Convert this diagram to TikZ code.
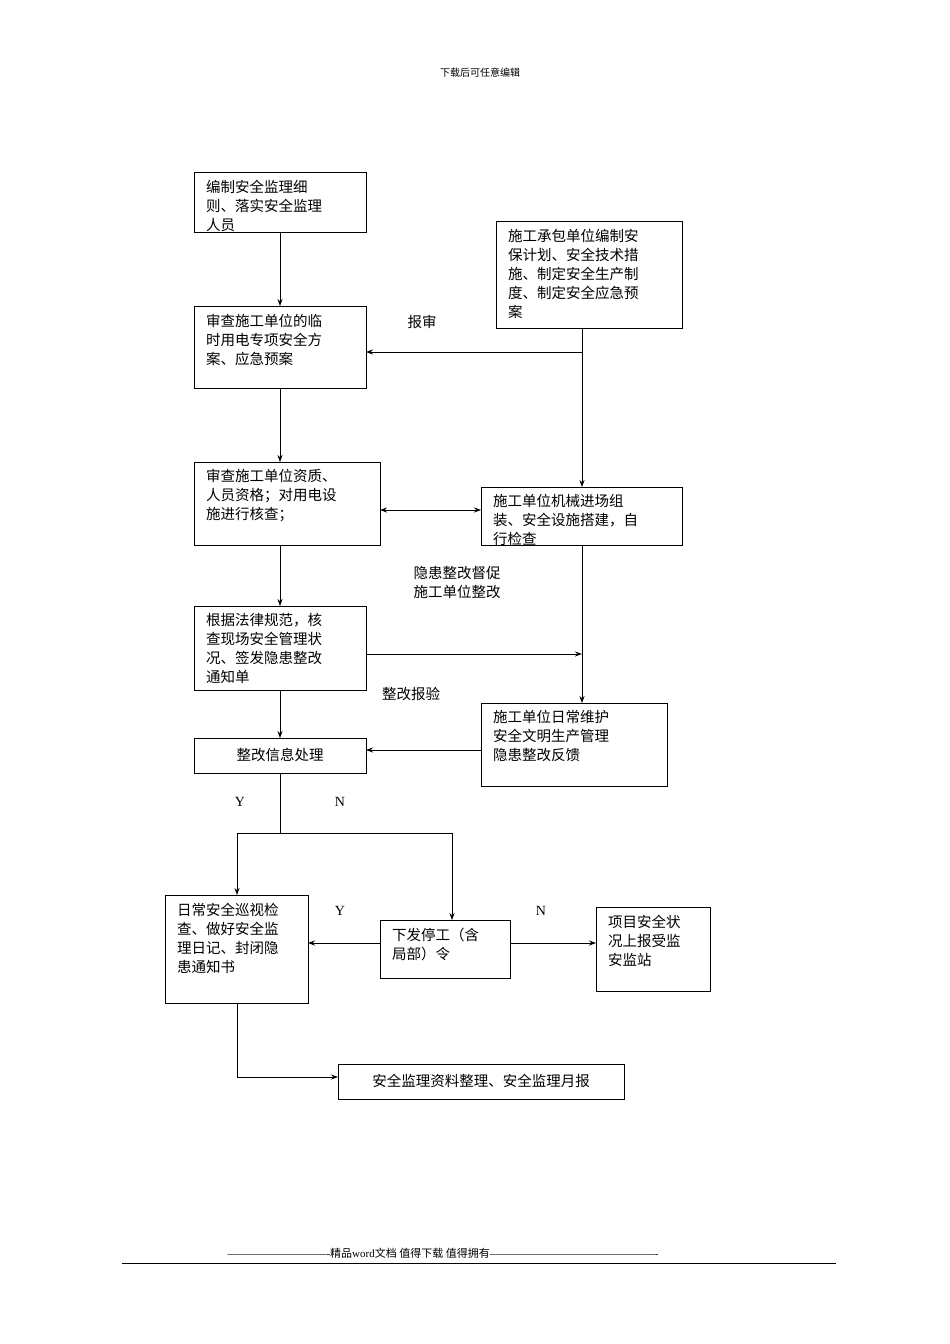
\documentclass[tikz,border=0pt]{standalone}
\usepackage{fontspec}
\setmainfont{Liberation Serif}
\newfontfamily\cjk{Noto Sans CJK SC}
\usetikzlibrary{arrows.meta}
\begin{document}
\begin{tikzpicture}[x=1pt,y=-1pt,
 bx/.style={draw,line width=0.8pt,anchor=north west,inner sep=0pt},
 tx/.style={anchor=north west,align=left,font=\cjk\fontsize{14.5}{19}\selectfont,inner sep=0pt},
 lb/.style={font=\cjk\fontsize{14.5}{19}\selectfont,inner sep=0pt,align=left},
 ar/.style={-{Stealth[length=7pt,width=5pt]},line width=0.8pt},
 ln/.style={line width=0.8pt}]
\useasboundingbox (0,0) rectangle (950,1344);
\node[font=\cjk\fontsize{10}{12}\selectfont] (hd) at (480,73) {下载后可任意编辑};
% boxes
\draw[ln] (194,172) rectangle (366,232); \node[tx] (t1) at (206,180) {编制安全监理细\\则、落实安全监理\\人员};
\coordinate (b1) at (280,232);
\draw[ln] (496,221) rectangle (682,328); \node[tx] (t2) at (508,229) {施工承包单位编制安\\保计划、安全技术措\\施、制定安全生产制\\度、制定安全应急预\\案};
\draw[ln] (194,306) rectangle (366,388); \node[tx] (t3) at (206,314) {审查施工单位的临\\时用电专项安全方\\案、应急预案};
\draw[ln] (194,462) rectangle (380,545); \node[tx] (t4) at (206,469) {审查施工单位资质、\\人员资格；对用电设\\施进行核查；};
\draw[ln] (481,487) rectangle (682,545); \node[tx] (t5) at (493,494) {施工单位机械进场组\\装、安全设施搭建，自\\行检查};
\draw[ln] (194,606) rectangle (366,690); \node[tx] (t6) at (206,613) {根据法律规范，核\\查现场安全管理状\\况、签发隐患整改\\通知单};
\draw[ln] (481,703) rectangle (667,786); \node[tx] (t7) at (493,710) {施工单位日常维护\\安全文明生产管理\\隐患整改反馈};
\draw[ln] (194,738) rectangle (366,773); \node[lb] (t8) at (280,755) {整改信息处理};
\draw[ln] (165,895) rectangle (308,1003); \node[tx] (t9) at (177,903) {日常安全巡视检\\查、做好安全监\\理日记、封闭隐\\患通知书};
\draw[ln] (380,920) rectangle (510,978); \node[tx] (t10) at (392,928) {下发停工（含\\局部）令};
\draw[ln] (596,907) rectangle (710,991); \node[tx] (t11) at (608,915) {项目安全状\\况上报受监\\安监站};
\draw[ln] (338,1064) rectangle (624,1099); \node[lb] (t12) at (481,1081) {安全监理资料整理、安全监理月报};
% coordinates
\coordinate (c1) at (280,306); \coordinate (c2a) at (582,328); \coordinate (c2b) at (582,487);
\coordinate (j1) at (582,352); \coordinate (c3r) at (366,352);
\coordinate (c3b) at (280,388); \coordinate (c4t) at (280,462);
\coordinate (c4r) at (380,510); \coordinate (c5l) at (481,510);
\coordinate (c4b) at (280,545); \coordinate (c6t) at (280,606);
\coordinate (c5b) at (582,545); \coordinate (c7t) at (582,703);
\coordinate (c6r) at (366,654); \coordinate (j2) at (582,654);
\coordinate (c6b) at (280,690); \coordinate (c8t) at (280,738);
\coordinate (c7l) at (481,750); \coordinate (c8r) at (366,750);
\coordinate (c8b) at (280,773); \coordinate (c9t) at (237,895); \coordinate (c10t) at (452,920);
\coordinate (c10l) at (380,943); \coordinate (c9r) at (308,943);
\coordinate (c10r) at (510,943); \coordinate (c11l) at (596,943);
\coordinate (c9b) at (237,1003); \coordinate (c12l) at (338,1077);
% connectors
\draw[ar] (b1) -- (c1);
\draw[ar] (c2a) -- (c2b);
\draw[ar] (j1) -- (c3r);
\draw[ar] (c3b) -- (c4t);
\draw[{Stealth[length=7pt,width=5pt]}-{Stealth[length=7pt,width=5pt]},line width=0.8pt] (c4r) -- (c5l);
\draw[ar] (c4b) -- (c6t);
\draw[ar] (c5b) -- (c7t);
\draw[ar] (c6r) -- (j2);
\draw[ar] (c6b) -- (c8t);
\draw[ar] (c7l) -- (c8r);
\draw[ar] (c8b) -- (280,833) -| (c9t);
\draw[ar] (280,833) -| (c10t);
\draw[ar] (c10l) -- (c9r);
\draw[ar] (c10r) -- (c11l);
\draw[ar] (c9b) |- (c12l);
% labels
\node[lb] (l1) at (422,322) {报审};
\node[lb] (l2) at (457,583) {隐患整改督促\\施工单位整改};
\node[lb] (l3) at (411,694) {整改报验};
\node[font=\fontsize{14}{16}\selectfont] (y1) at (240,802) {Y};
\node[font=\fontsize{14}{16}\selectfont] (n1) at (340,802) {N};
\node[font=\fontsize{14}{16}\selectfont] (y2) at (340,911) {Y};
\node[font=\fontsize{14}{16}\selectfont] (n2) at (541,911) {N};
% footer
\node[font=\fontsize{11}{13}\selectfont] (ft) at (443,1253) {----------------------------{\cjk 精品}word{\cjk 文档 值得下载 值得拥有}----------------------------------------------};
\draw[line width=0.6pt] (122,1263) -- (836,1263);
\end{tikzpicture}
\end{document}
